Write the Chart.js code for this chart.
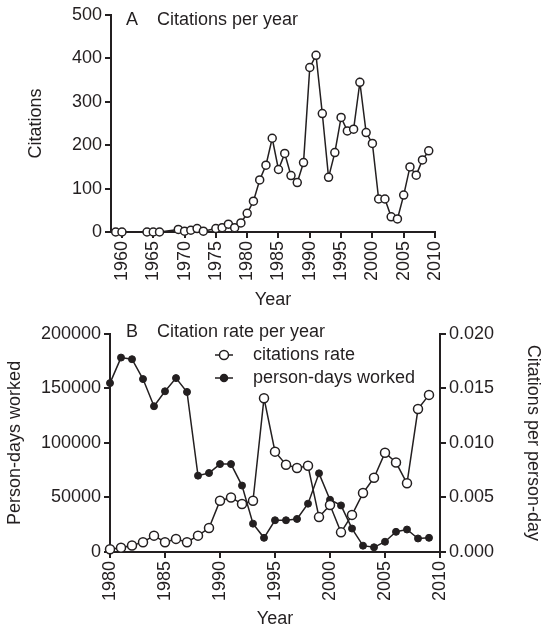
<!DOCTYPE html>
<html>
<head>
<meta charset="utf-8">
<script src="https://cdn.jsdelivr.net/npm/chart.js@4.4.1/dist/chart.umd.min.js"></script>
<style>
  body { margin: 0; background: #fff; }
  canvas { position: absolute; left: 0; }
  #chartA { top: 0; }
  #chartB { top: 320px; }
</style>
</head>
<body>
<canvas id="chartA" width="542" height="320"></canvas>
<canvas id="chartB" width="542" height="310"></canvas>
<script>
// panel A: citations per year
const yearsA = [1959, 1960, 1964, 1965, 1966, 1969, 1970, 1971, 1972, 1973,
    1975, 1976, 1977, 1978, 1979, 1980, 1981, 1982, 1983, 1984,
    1985, 1986, 1987, 1988, 1989, 1990, 1991, 1992, 1993, 1994,
    1995, 1996, 1997, 1998, 1999, 2000, 2001, 2002, 2003, 2004,
    2005, 2006, 2007, 2008, 2009];
const citations = [0, 0, 0, 0, 0, 6, 2, 4, 8, 2,
    8, 10, 18, 10, 21, 43, 71, 120, 154, 216,
    144, 181, 130, 114, 160, 379, 407, 273, 126, 183,
    264, 233, 237, 345, 229, 204, 76, 76, 35, 30,
    85, 150, 131, 166, 187];

// panel B: citation rate and person-days
const yearsB = [1980, 1981, 1982, 1983, 1984, 1985, 1986, 1987, 1988, 1989,
    1990, 1991, 1992, 1993, 1994, 1995, 1996, 1997, 1998, 1999,
    2000, 2001, 2002, 2003, 2004, 2005, 2006, 2007, 2008, 2009];
const citationRate = [0.00025, 0.0004, 0.0006, 0.0009, 0.0015, 0.0009, 0.0012, 0.0009, 0.0015, 0.0022,
    0.0047, 0.0050, 0.0044, 0.0047, 0.0141, 0.0092, 0.0080, 0.0077, 0.0079, 0.0032,
    0.0043, 0.0018, 0.0034, 0.0054, 0.0068, 0.0091, 0.0082, 0.0063, 0.0131, 0.0144];
const personDays = [154800, 178200, 176700, 158500, 133600, 147300, 159400, 146700, 70000, 72400,
    80600, 80600, 60900, 26000, 13000, 29100, 29100, 30300, 44300, 72100,
    47900, 42700, 21500, 5800, 4300, 9400, 18500, 20600, 12400, 13000];

const yearTicksA = [1960, 1965, 1970, 1975, 1980, 1985, 1990, 1995, 2000, 2005, 2010];
const yearTicksB = [1980, 1985, 1990, 1995, 2000, 2005, 2010];
const seriesLabels = ['citations rate', 'person-days worked'];

const FONT = '"Liberation Sans", Arial, Helvetica, sans-serif';
const INK = '#231f20';
Chart.defaults.font.family = FONT;
Chart.defaults.font.size = 18;
Chart.defaults.color = INK;

function pts(xs, ys) {
    return xs.map((x, i) => ({ x: x, y: ys[i] }));
}

// axis look shared by every scale: thick axis line, outward ticks, no grid
function axisStyle(extra) {
    return Object.assign({
        border: { display: true, color: INK, width: 2 },
        grid: { drawOnChartArea: false, drawTicks: true, tickLength: 6, color: INK, lineWidth: 2 },
        ticks: { color: INK, padding: 3 }
    }, extra);
}

// panel letter, heading and (for B) the legend drawn inside the plot
const panelText = {
    id: 'panelText',
    afterDraw(chart, args, opts) {
        const ctx = chart.ctx;
        ctx.save();
        ctx.font = '18px ' + FONT;
        ctx.fillStyle = INK;
        ctx.textBaseline = 'middle';
        ctx.fillText(opts.letter, 126, opts.y);
        ctx.fillText(opts.text, 157, opts.y);
        if (opts.legend) {
            chart.data.datasets.forEach((ds, i) => {
                const y = opts.legend.y + i * opts.legend.gap;
                ctx.strokeStyle = INK;
                ctx.lineWidth = 1.5;
                ctx.beginPath();
                ctx.moveTo(opts.legend.x, y);
                ctx.lineTo(opts.legend.x + 18, y);
                ctx.stroke();
                ctx.beginPath();
                ctx.arc(opts.legend.x + 9, y, ds.pointRadius, 0, Math.PI * 2);
                ctx.fillStyle = ds.pointBackgroundColor;
                ctx.fill();
                ctx.stroke();
                ctx.fillStyle = INK;
                ctx.fillText(ds.label, opts.legend.x + 38, y);
            });
        }
        ctx.restore();
    }
};

const configA = {
    type: 'line',
    data: {
        datasets: [{
            label: 'Citations',
            data: pts(yearsA, citations),
            borderColor: INK,
            borderWidth: 1.5,
            pointRadius: 4,
            pointBorderWidth: 1.5,
            pointBackgroundColor: '#fff',
            pointBorderColor: INK,
            clip: false
        }]
    },
    options: {
        responsive: false,
        animation: false,
        devicePixelRatio: 1,
        layout: { padding: { top: 15, right: 107, left: 0, bottom: 0 } },
        plugins: {
            legend: { display: false },
            tooltip: { enabled: false },
            panelText: { letter: 'A', text: 'Citations per year', y: 20 }
        },
        scales: {
            x: axisStyle({
                type: 'linear',
                min: 1958.25,
                max: 2010,
                afterBuildTicks: s => { s.ticks = yearTicksA.map(v => ({ value: v })); },
                afterFit: s => { s.height = 88; },
                ticks: { color: INK, padding: 3, minRotation: 90, maxRotation: 90, autoSkip: false,
                    callback: v => String(v) },
                title: { display: true, text: 'Year', color: INK, padding: { top: 0, bottom: 9 } }
            }),
            y: axisStyle({
                min: 0,
                max: 500,
                afterFit: s => { s.width = 111; },
                ticks: { color: INK, padding: 3, stepSize: 100 },
                title: { display: true, text: 'Citations', color: INK, padding: { top: 25, bottom: 0 } }
            })
        }
    },
    plugins: [panelText]
};

const configB = {
    type: 'line',
    data: {
        datasets: [{
            label: seriesLabels[0],
            data: pts(yearsB, citationRate),
            yAxisID: 'y1',
            borderColor: INK,
            borderWidth: 1.5,
            pointRadius: 4.5,
            pointBorderWidth: 1.5,
            pointBackgroundColor: '#fff',
            pointBorderColor: INK,
            clip: false
        }, {
            label: seriesLabels[1],
            data: pts(yearsB, personDays),
            yAxisID: 'y',
            borderColor: INK,
            borderWidth: 1.5,
            pointRadius: 3.5,
            pointBorderWidth: 1,
            pointBackgroundColor: INK,
            pointBorderColor: INK,
            clip: false
        }]
    },
    options: {
        responsive: false,
        animation: false,
        devicePixelRatio: 1,
        layout: { padding: { top: 12, right: 0, left: 0, bottom: 0 } },
        plugins: {
            legend: { display: false },
            tooltip: { enabled: false },
            panelText: { letter: 'B', text: 'Citation rate per year', y: 12,
                legend: { x: 215, y: 35, gap: 23 } }
        },
        scales: {
            x: axisStyle({
                type: 'linear',
                min: 1980,
                max: 2010,
                afterBuildTicks: s => { s.ticks = yearTicksB.map(v => ({ value: v })); },
                afterFit: s => { s.height = 78; },
                ticks: { color: INK, padding: 3, minRotation: 90, maxRotation: 90, autoSkip: false,
                    callback: v => String(v) },
                title: { display: true, text: 'Year', color: INK, padding: { top: 0, bottom: 0 } }
            }),
            y: axisStyle({
                position: 'left',
                min: 0,
                max: 200000,
                afterFit: s => { s.width = 110; },
                ticks: { color: INK, padding: 3, stepSize: 50000, callback: v => String(v) },
                title: { display: true, text: 'Person-days worked', color: INK, padding: { top: 4, bottom: 0 } }
            }),
            y1: axisStyle({
                position: 'right',
                min: 0,
                max: 0.02,
                afterFit: s => { s.width = 102; },
                ticks: { color: INK, padding: 3, stepSize: 0.005, callback: v => v.toFixed(3) },
                title: { display: true, text: 'Citations per person-day', color: INK, padding: { top: -2, bottom: 0 } }
            })
        }
    },
    plugins: [panelText]
};

new Chart(document.getElementById('chartA'), configA);
new Chart(document.getElementById('chartB'), configB);
</script>
</body>
</html>
